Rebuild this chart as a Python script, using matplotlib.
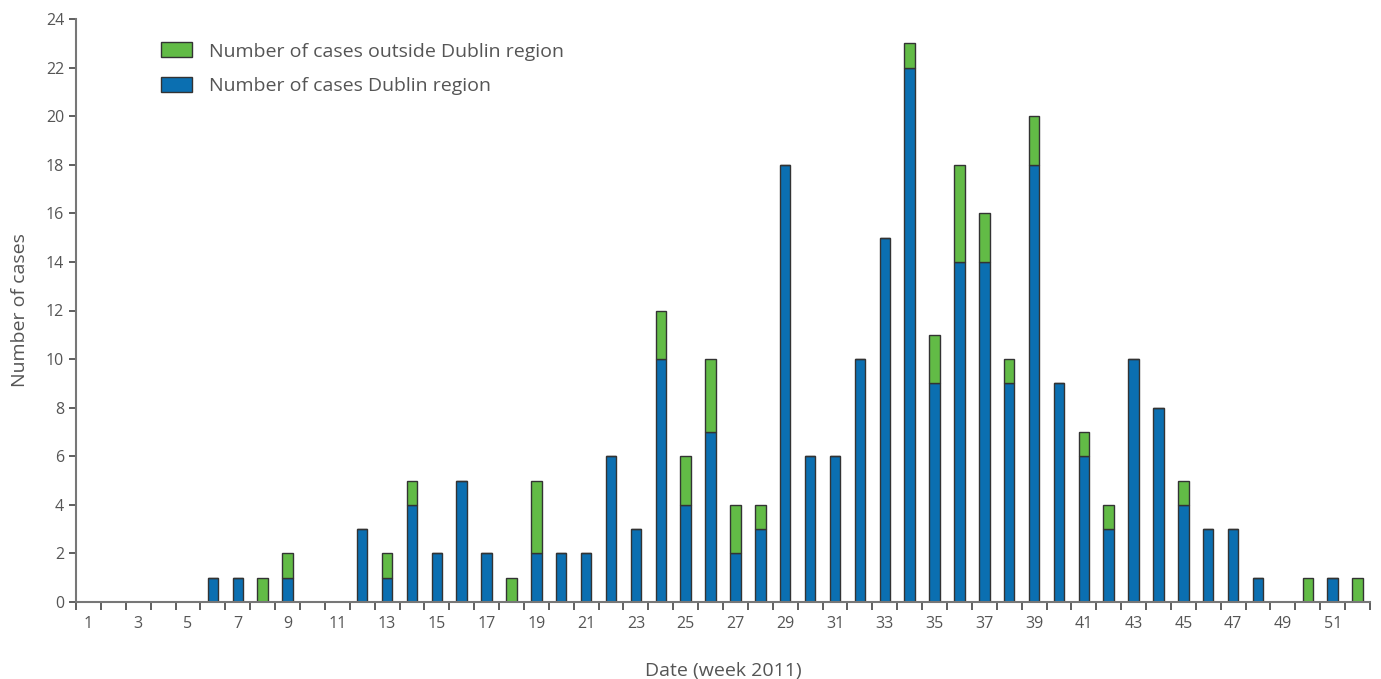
import matplotlib
matplotlib.use("Agg")
import matplotlib.pyplot as plt
import numpy as np

# ==== data: weekly cases, 2011 ====
weeks = np.arange(1, 53)
dublin = [0, 0, 0, 0, 0, 1, 1, 0, 1, 0, 0, 3, 1, 4, 2, 5, 2, 0, 2, 2,
          2, 6, 3, 10, 4, 7, 2, 3, 18, 6, 6, 10, 15, 22, 9, 14, 14, 9, 18, 9,
          6, 3, 10, 8, 4, 3, 3, 1, 0, 0, 1, 0]
outside = [0, 0, 0, 0, 0, 0, 0, 1, 1, 0, 0, 0, 1, 1, 0, 0, 0, 1, 3, 0,
           0, 0, 0, 2, 2, 3, 2, 1, 0, 0, 0, 0, 0, 1, 2, 4, 2, 1, 2, 0,
           1, 1, 0, 0, 1, 0, 0, 0, 0, 1, 0, 1]

blue = "#0b6fb1"
green = "#62bb46"
grey = "#555555"

plt.rcParams["font.family"] = ["Open Sans", "DejaVu Sans"]

fig = plt.figure(figsize=(13.81, 6.79), dpi=100)
ax = fig.add_axes([76 / 1381, 1 - 602 / 679, (1370 - 76) / 1381, (602 - 19) / 679])

ax.bar(weeks, dublin, width=0.42, color=blue, edgecolor="#333333", linewidth=1.0,
       label="Number of cases Dublin region")
ax.bar(weeks, outside, width=0.42, bottom=dublin, color=green, edgecolor="#333333",
       linewidth=1.0, label="Number of cases outside Dublin region")

ax.set_xlim(0.5, 52.5)
ax.set_ylim(0, 24)

# tick marks at week boundaries, labels on odd weeks
ax.set_xticks(np.arange(0.5, 53, 1))
ax.set_xticklabels([])
ax.set_xticks(np.arange(1, 53, 2), minor=True)
ax.set_xticklabels([str(w) for w in range(1, 53, 2)], minor=True)
ax.tick_params(axis="x", which="major", length=6, width=1.2, color="#444444")
ax.tick_params(axis="x", which="minor", length=0, pad=10, labelsize=11.5, labelcolor=grey)

ax.set_yticks(np.arange(0, 25, 2))
ax.tick_params(axis="y", length=5, width=1.2, color="#444444", labelsize=11.5, labelcolor=grey)

for s in ["top", "right"]:
    ax.spines[s].set_visible(False)
for s in ["left", "bottom"]:
    ax.spines[s].set_color("#777777")
    ax.spines[s].set_linewidth(1.5)

ax.set_xlabel("Date (week 2011)", fontsize=14, color=grey, labelpad=22)
ax.set_ylabel("Number of cases", fontsize=14, color=grey, labelpad=12)

h, l = ax.get_legend_handles_labels()
ax.legend(h[::-1], l[::-1], loc="upper left", bbox_to_anchor=(0.052, 0.99), frameon=False,
          fontsize=14, labelcolor=grey, handlelength=1.6, handleheight=0.8,
          handletextpad=0.9, labelspacing=0.85)

fig.savefig("out.png", dpi=100)
